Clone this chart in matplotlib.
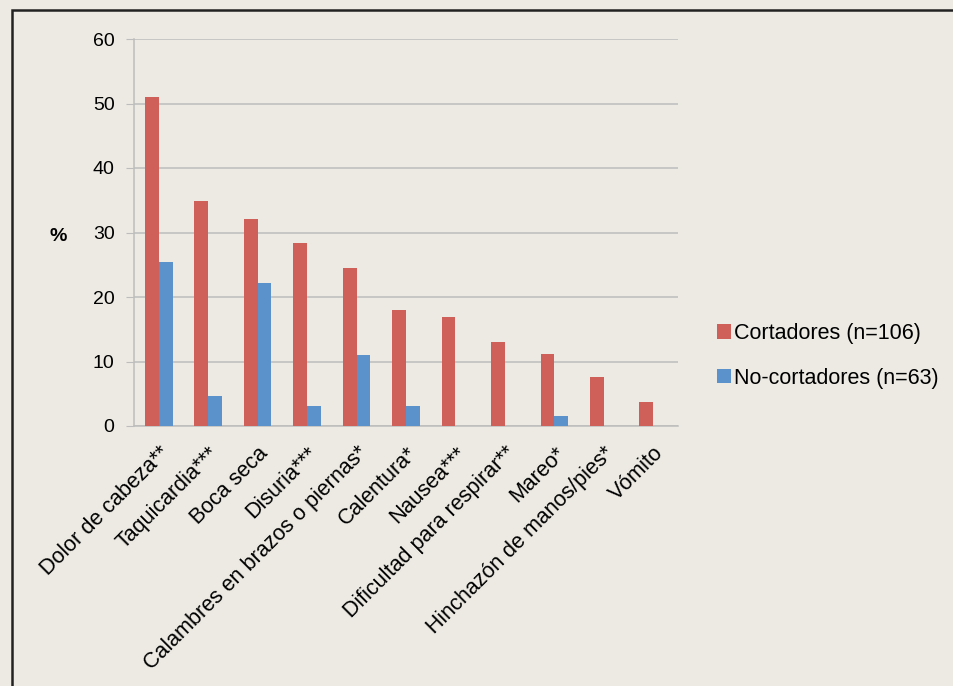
import matplotlib
matplotlib.use("Agg")
import matplotlib.pyplot as plt
import numpy as np
from matplotlib.patches import Rectangle

categories = ["Dolor de cabeza**", "Taquicardia***", "Boca seca", "Disuria***",
              "Calambres en brazos o piernas*", "Calentura*", "Nausea***",
              "Dificultad para respirar**", "Mareo*", "Hinchazón de manos/pies*", "Vómito"]
cortadores = [51.0, 34.9, 32.1, 28.4, 24.5, 18.0, 16.9, 13.0, 11.2, 7.6, 3.7]
no_cortadores = [25.4, 4.7, 22.2, 3.1, 11.0, 3.1, 0, 0, 1.6, 0, 0]
series_names = ["Cortadores (n=106)", "No-cortadores (n=63)"]
yticks = [0, 10, 20, 30, 40, 50, 60]

plt.rcParams['font.family'] = ['Liberation Sans', 'DejaVu Sans']
bg = "#ECEAE3"
red = "#CF5F59"
blue = "#5B92CB"
grid = "#BDBDBD"

fig = plt.figure(figsize=(9.54, 6.86), dpi=100, facecolor=bg)
fig.patches.append(Rectangle((12/954, -0.1), 1.2, 1 - 10/686 + 0.1, transform=fig.transFigure,
                             fill=False, edgecolor="#222222", linewidth=1.8))

ax = fig.add_axes([134/954, 1 - 426/686, (678 - 134)/954, (426 - 39)/686])
ax.set_facecolor("none")
x = np.arange(len(categories))
w = 0.28
ax.bar(x - w/2, cortadores, w, color=red, label=series_names[0], zorder=3)
ax.bar(x + w/2, no_cortadores, w, color=blue, label=series_names[1], zorder=3)

ax.set_xlim(-0.5, len(categories) - 0.5)
ax.set_ylim(0, 60)
ax.set_yticks(yticks)
ax.set_yticklabels([str(t) for t in yticks], fontsize=14)
ax.yaxis.grid(True, color=grid, linewidth=1.1, zorder=0)
for s in ["top", "right"]:
    ax.spines[s].set_visible(False)
ax.spines["left"].set_color(grid)
ax.spines["bottom"].set_color(grid)
ax.spines["left"].set_linewidth(1.1)
ax.spines["bottom"].set_linewidth(1.1)
ax.tick_params(axis="y", length=6, color=grid, pad=8)
ax.tick_params(axis="x", length=0, pad=12)
ax.set_xticks(x)
ax.set_xticklabels(categories, rotation=45, ha="right", rotation_mode="anchor", fontsize=15.5)

fig.text(58/954, 1 - 236/686, "%", fontsize=14, fontweight="bold", ha="center", va="center")

ax.legend(loc="center left", bbox_to_anchor=(717/954, 1 - 356/686), bbox_transform=fig.transFigure,
          frameon=False, fontsize=15.5, handlelength=0.65, handleheight=0.65, handletextpad=0.15,
          labelspacing=1.1, borderaxespad=0, borderpad=0)

fig.savefig("out.png", dpi=100, facecolor=bg)
